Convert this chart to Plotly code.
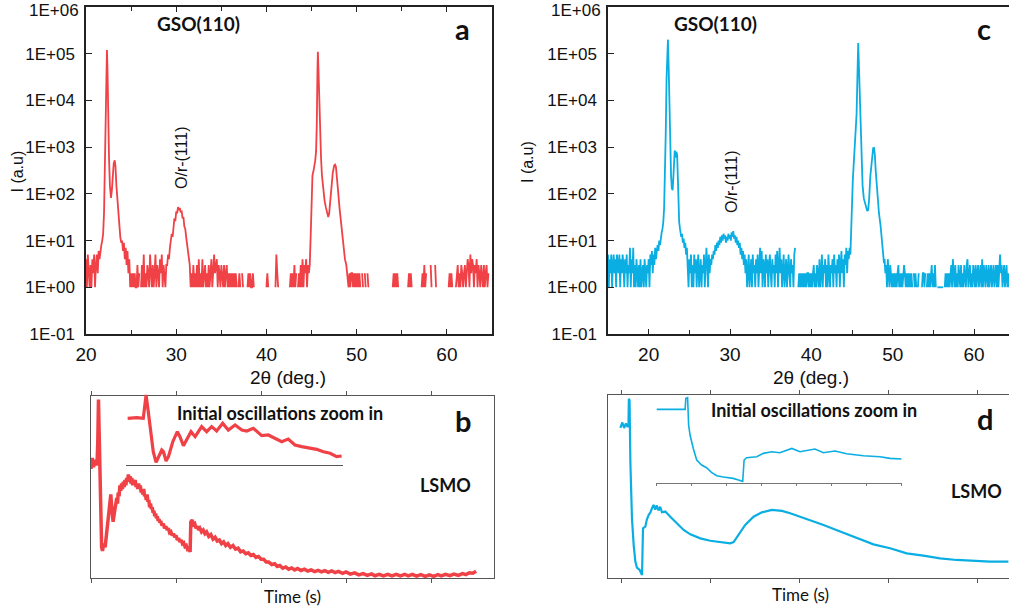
import plotly.graph_objects as go

W, H = 1009, 613
RED = "#EF4146"
BLUE = "#0BAEE2"
STEP = 0.1

# ---------------- Panel a (red XRD), counts on a 0.1 deg grid -----------------
a_n1_start = 20.0
a_n1 = [4, 1, 5, 2, 1, 3, 1, 4, 2, 5, 1, 3, 5, 2, 6, 4, 7, 8]
a_pk1_x = [21.8, 21.9, 22.0, 22.1, 22.2, 22.27, 22.32, 22.38, 22.45, 22.55, 22.65, 22.77,
           22.87, 22.97, 23.07, 23.18, 23.27, 23.37, 23.47, 23.57, 23.7]
a_pk1_y = [10, 14, 40, 400, 8000, 60000, 120000, 50000, 5000, 600, 150, 82,
           120, 260, 450, 520, 380, 150, 75, 40, 20]
a_n2_start = 23.8
a_n2 = [12, 9, 10, 6, 9, 4, 7, 3, 6, 2, 4, 1, 2, 1, 2, 1, 2, 1,
        1, 3, 1, 2, 0, 1, 3, 1, 5, 1, 2, 1, 3, 2, 1, 5, 2, 1, 3, 1, 2, 5, 1, 3, 2, 1, 4, 2, 5, 1, 3, 2, 1, 3,
        3, 5, 4, 7, 9, 14, 12, 22, 30, 26, 42, 38, 52, 45, 50, 40, 44, 30, 32, 20, 18, 12, 9, 6, 5, 3,
        1, 2, 1, 3, 1, 2, 1, 3, 1, 4, 1, 2, 1, 4, 1, 2, 3, 1, 2, 1,
        3, 1, 2, 4, 1, 3, 5, 2, 3, 4, 1, 3, 2, 1, 3, 2, 1, 3, 1, 2,
        3, 1, 2, 1, 2, 1, 2, 1, 2, 1, 2, 1, 0, 1,
        2, 1, 0, 2, 1, 0, 1, 0, 0, 1,
        2, 1, 2, 1, 1, 2, 1, 0, 0, 0,
        0, 0, 0, 0, 0, 0, 0, 0, 1, 0,
        1, 2, 1, 0, 2, 0, 0, 1, 0, 0,
        1, 5, 2, 1, 0, 2, 0, 1, 0, 0,
        0, 0, 0, 0, 0, 0, 1, 2, 1, 2,
        1, 3, 1, 2, 0, 1, 2, 1, 3, 1,
        4, 1, 3, 2, 4, 1, 3, 2]
a_pk2_x = [44.8, 44.9, 45.0, 45.1, 45.2, 45.3, 45.4, 45.5, 45.58, 45.65, 45.7, 45.76, 45.85,
           45.95, 46.05, 46.15, 46.3, 46.45, 46.6, 46.75, 46.85, 46.95, 47.05, 47.2, 47.35,
           47.5, 47.6, 47.7, 47.8, 47.95, 48.1, 48.25, 48.35, 48.5, 48.6, 48.7, 48.85, 48.95]
a_pk2_y = [3, 12, 150, 250, 300, 380, 500, 800, 3000, 40000, 110000, 50000, 10000,
           2500, 600, 250, 120, 70, 50, 38, 32, 38, 60, 150, 280,
           400, 420, 380, 250, 110, 50, 25, 14, 8, 5, 4, 3, 2]
a_n3_start = 49.0
a_n3 = [2, 1, 2, 1, 2, 2, 1, 2, 1, 2,
        1, 2, 1, 2, 1, 0, 2, 1, 0, 2,
        1, 0, 2, 1, 0, 0, 0, 0, 0, 0,
        0, 0, 0, 0, 0, 0, 0, 0, 0, 0,
        0, 0, 0, 0, 0, 0, 0, 0, 0, 0,
        1, 2, 1, 2, 1, 2, 1, 0, 0, 0,
        0, 0, 0, 0, 0, 0, 0, 1, 2, 1,
        2, 1, 0, 0, 0, 0, 0, 0, 0, 0,
        0, 0, 1, 2, 1, 3, 1, 2, 0, 0,
        0, 0, 3, 1, 0, 0, 0, 3, 1, 0,
        0, 0, 0, 0, 0, 0, 0, 0, 0, 0,
        0, 0, 1, 2, 1, 2, 1, 0, 0, 0,
        1, 2, 3, 1, 2, 1, 3, 2, 1, 2,
        3, 1, 2, 4, 3, 1, 5, 2, 4, 3,
        1, 3, 2, 4, 1, 3, 2, 1, 3, 2,
        1, 3, 1, 2, 3, 1, 2]

# ---------------- Panel c (blue XRD) -----------------
c_n1_start = 15.0
c_n1 = [5, 1, 4, 2, 5, 1, 3, 5, 2, 4,
        1, 5, 3, 2, 5, 1, 4, 2, 5, 3,
        1, 4, 2, 5, 1, 3, 2, 7, 1, 4,
        2, 7, 1, 3, 1, 4, 2, 1, 3, 1,
        4, 1, 2, 3, 1, 4, 2, 1, 3, 2,
        4, 1, 5, 3, 6, 2, 5, 3, 7, 4,
        6, 8, 6, 10, 8, 12, 15, 18, 25]
c_pk1_x = [21.9, 22.0, 22.1, 22.2, 22.3, 22.37, 22.45, 22.55, 22.65, 22.75, 22.85, 22.95,
           23.05, 23.12, 23.2, 23.3, 23.4, 23.5, 23.58, 23.65, 23.75, 23.85]
c_pk1_y = [50, 200, 2000, 30000, 150000, 200000, 60000, 8000, 1000, 250, 130, 120,
           250, 500, 850, 600, 800, 700, 200, 50, 25, 18]
c_n2_start = 23.9
c_n2 = [15, 12, 14, 9, 11, 7, 9, 5, 7, 3,
        1, 4, 2, 5, 1, 3, 1, 5, 2, 4, 1, 3, 5, 1, 2, 4, 1, 3, 2, 5, 1, 4, 7, 3, 1, 5, 2, 4,
        3, 5, 4, 6, 5, 8, 6, 9, 7, 10, 8, 12, 9, 13, 10, 14, 11, 13, 9, 12, 10, 14, 11, 13,
        10, 15, 12, 16, 11, 13, 9, 12, 8, 10, 7, 9, 5, 7, 4, 6, 3, 5, 2, 4, 1,
        2, 5, 1, 3, 4, 1, 5, 2, 3, 1, 4, 2, 5, 1, 3, 7, 2, 6, 1, 4,
        3, 1, 5, 2, 4, 1, 3, 5, 2, 1, 4, 2, 3, 1, 5, 2, 6, 1, 3, 7,
        2, 4, 1, 3, 5, 1, 2, 4, 1, 3, 5, 2, 1, 4, 2, 3, 1, 5, 7,
        0, 0, 0, 1, 2, 1, 2, 1, 2, 1,
        2, 1, 2, 1, 2, 2, 1, 2, 1, 2,
        1, 2, 3, 1, 2, 1, 3, 2, 1, 4,
        1, 2, 5, 1, 3,
        2, 4, 1, 3, 1, 5, 2, 1, 3, 2, 4, 1, 5, 2, 3, 1, 4, 2, 5, 1,
        3, 6, 2, 4, 1, 5, 3, 7, 2, 6, 4, 7, 5]
c_pk2_x = [44.85, 44.95, 45.02, 45.1, 45.2, 45.31, 45.45, 45.56, 45.65, 45.72, 45.76, 45.82,
           45.9, 45.97, 46.07, 46.15, 46.3, 46.45, 46.6, 46.75, 46.87, 46.98, 47.1, 47.25,
           47.45, 47.6, 47.7, 47.8, 47.92, 48.02, 48.15, 48.31, 48.52, 48.72, 48.93]
c_pk2_y = [8, 30, 75, 200, 450, 900, 2000, 5000, 25000, 120000, 170000, 80000,
           25000, 10000, 1500, 540, 150, 80, 62, 50, 43, 45, 75, 240,
           650, 950, 960, 700, 300, 170, 90, 39, 20, 7.5, 3.3]
c_n3_start = 49.0
c_n3 = [4, 2, 3, 1, 4, 2, 1, 3, 2, 1,
        2, 1, 2, 1, 2, 1, 2, 3, 1, 2,
        1, 2, 1, 2, 3, 2, 1, 2, 1, 2,
        1, 2, 1, 2, 1, 0, 2, 1, 2, 1,
        0, 1, 2, 0, 0, 0, 1, 2, 2, 1,
        2, 0, 1, 2, 1, 2, 1, 2, 3, 1,
        2, 1, 3, 1, 0, 1, 1, 1, 1, 1,
        1, 1, 1, 0, 1, 2, 1, 2, 1, 2,
        1, 2, 3, 1, 4, 2, 1, 3, 1, 2,
        1, 3, 2, 1, 3, 1, 2, 1, 3, 2,
        1, 3, 4, 1, 2, 3, 1, 2, 1, 3,
        2, 1, 3, 1, 2, 3, 1, 2, 3, 1,
        4, 1, 3, 2, 1, 3, 2, 1, 3, 1,
        2, 3, 1, 2, 3, 1, 2, 3, 1, 3,
        1, 4, 5, 2, 3, 1, 2, 3, 1, 2,
        3, 1, 2, 1]

# ---------------- Panel b (red RHEED) -----------------
b_main = [(-1, 60), (0.5, 66), (2, 61), (3.5, 65), (5, 62), (6.2, 64), (7, 75), (7.8, 98), (8.6, 80),
          (9.5, 50), (10.5, 30), (11.5, 17), (12.5, 15), (14, 19), (15.6, 17), (17, 24), (18.5, 30),
          (19.6, 35), (21, 42), (22.3, 46), (23.5, 38), (25, 31), (26.5, 36), (28, 42), (29.3, 44),
          (30.2, 41), (31, 47), (32, 45), (33, 51), (34, 48), (35, 52), (36, 49), (37, 53), (38, 50),
          (39, 54), (40, 51), (41, 55), (42, 53), (43, 57), (44, 53), (45, 56), (46, 52), (47, 55),
          (48, 51), (49, 54), (50, 51), (51, 54), (52, 50), (53, 52), (54, 49), (55, 52), (56, 49),
          (57, 51), (58, 47), (59, 49), (60, 46), (61, 49), (62, 45), (63, 46), (64, 43), (65, 46),
          (66, 42), (67, 43), (68, 39), (69, 41), (70, 38), (71, 39), (72, 36), (73, 37), (74, 34),
          (75, 35.5), (76, 33), (77, 34), (78, 31.5), (79, 32.5), (80, 30.5), (81, 31.5), (82.5, 29),
          (84, 30), (85.5, 27.5), (87, 28.5), (88.5, 26.5), (90, 27.5), (91.5, 25), (93, 25.5),
          (94.5, 23.5), (96, 24.5), (97.5, 22.5), (99, 23.5), (100.5, 21), (102, 22), (103.5, 20),
          (105, 21), (106.5, 19), (108, 19.5), (109.5, 17.5), (111, 18), (112.5, 16), (114, 16.5),
          (115.6, 14.5), (116.4, 31), (118, 32), (119.5, 29.5), (121, 30), (122.5, 27.5), (124, 28.5),
          (125.5, 26.5), (127, 27.5), (129, 25.5), (131, 26.5), (133, 24.5), (135, 25.5), (137.5, 23),
          (140, 24), (142.5, 21.5), (145, 22.5), (147.5, 20.5), (150, 21), (152.5, 19), (155, 20),
          (157.5, 18), (160, 19), (163, 17), (166, 18), (169, 16), (172, 16.5), (175, 14.5),
          (178, 15), (181, 13.5), (184, 14), (187, 12.5), (190, 13), (193, 11.5), (196, 12),
          (199, 10.5), (202, 10.5), (205, 9), (208, 9), (211.5, 7.5), (215, 8), (218, 6.5),
          (221, 7), (224.5, 5.5), (228, 6.2), (231.5, 5), (235, 5.7), (238.5, 4.6), (242, 5.4),
          (246, 4.3), (250, 5), (254, 4), (258, 4.6), (262, 3.7), (266, 4.4), (270, 3.5),
          (274, 4.2), (278, 3.3), (282, 4.1), (286, 3.1), (290, 3.8), (295, 2.7), (299, 3.5),
          (304, 2.3), (309, 3), (314, 1.9), (319, 2.6), (324, 1.6), (329, 2.4), (333, 1.4),
          (338, 2.2), (343, 1.3), (348, 2.2), (353, 1.3), (358, 2.2), (363, 1.3), (368, 2.2),
          (372, 1.3), (377, 2.2), (382, 1.2), (387, 2), (392, 1.1), (397, 1.9), (402, 1.1),
          (407, 2), (411, 1.3), (416, 2.2), (421, 1.4), (426, 2.3), (431, 1.6), (436, 2.6),
          (440, 2), (444, 3), (448, 2.8), (452, 3.9)]
b_inset = [(0.9, 66.7), (5.1, 67.6), (8.1, 66.7), (8.9, 85.7), (9.4, 100), (10.4, 76), (11.5, 47.6),
           (12.7, 19), (14, 3.8), (15.1, 11.9), (16.6, 21.4), (17.4, 19), (18.6, 5.7), (19.7, 11.9),
           (21.7, 33.3), (23.8, 47.6), (25, 40.5), (26.6, 27.6), (28.1, 35.7), (30.1, 47.6),
           (32, 40.5), (35, 54.8), (37.3, 47.6), (39.6, 54.8), (41.9, 48.6), (44.7, 59.5),
           (47.3, 50), (50.4, 57.1), (53.5, 50), (55.8, 48.6), (58.8, 52.4), (62.7, 41.9),
           (65.7, 42.9), (68.8, 38.1), (71.9, 33.3), (74.9, 37.1), (78, 28.6), (81.1, 26.2),
           (84.9, 23.8), (88, 22.4), (91.1, 19), (94.2, 16.7), (97.2, 11.9), (99.5, 12.9)]

# ---------------- Panel d (blue RHEED) -----------------
d_main = [(-0.7, 82), (1.5, 85), (3.5, 82), (5.5, 84.5), (7.5, 82.5), (8.4, 84), (8.8, 98),
          (9.6, 97), (10.5, 63.6), (12.3, 32.7), (14.2, 18.2), (16.1, 9.1), (17.9, 5.8),
          (20.9, 4.5), (23.6, 1.8), (24.7, 27.3), (27.3, 28.2), (29, 32), (31, 34.5), (33, 36),
          (34.8, 38.2), (36.5, 40), (38.5, 37.5), (40, 39.8), (42.2, 37), (44, 39), (46, 36),
          (49.7, 36.4), (55.3, 33.6), (62.8, 30), (70.3, 26.4), (77.8, 24), (89, 21.8),
          (100.2, 20.5), (115.1, 19.6), (122.6, 19.1), (126.4, 19.8), (132, 23.6), (139.4, 29.1),
          (148.8, 33.6), (158.1, 36), (169.3, 37.3), (180.6, 36.8), (189.9, 35.5), (201.1, 33.6),
          (212.3, 31.8), (227.3, 29.1), (246, 25.5), (264.7, 21.8), (283.4, 18.5), (302, 16.4),
          (320.7, 13.6), (339.4, 12.4), (358.1, 10.9), (376.8, 10), (395.5, 9.6), (414.2, 9.1),
          (434.8, 9.1)]
d_inset = [(0.02, 85.3), (0.49, 85.3), (0.83, 85.3), (0.85, 98), (0.9, 98.8), (0.93, 67),
           (0.97, 55.4), (1.06, 40), (1.16, 26.4), (1.3, 20.5), (1.44, 17.4), (1.58, 12),
           (1.73, 8.1), (1.92, 6.6), (2.2, 5), (2.35, 3.1), (2.47, 1.6), (2.51, 26.4), (2.58, 29),
           (2.87, 30.2), (3.06, 34.1), (3.3, 36), (3.53, 34.9), (3.87, 39.9), (4.1, 36),
           (4.53, 39.1), (4.77, 34.9), (5.1, 36.8), (5.43, 33.7), (5.91, 31.4), (6.38, 30.2),
           (6.67, 28.3), (7, 27.5)]

LOG_TICKS = [0.1, 1, 10, 100, 1000, 1e4, 1e5, 1e6]
LOG_TEXT = ["1E-01", "1E+00", "1E+01", "1E+02", "1E+03", "1E+04", "1E+05", ""]
TOP_LABEL = "1E+06"


def build(segments):
    xs, ys = [], []
    for kind, a, b in segments:
        if kind == "grid":
            for i, v in enumerate(b):
                xs.append(round(a + STEP * i, 3))
                ys.append(v if v > 0 else None)
        else:
            xs.extend(a)
            ys.extend(b)
    return xs, ys


ax_, ay_ = build([("grid", a_n1_start, a_n1), ("pk", a_pk1_x, a_pk1_y),
                  ("grid", a_n2_start, a_n2), ("pk", a_pk2_x, a_pk2_y),
                  ("grid", a_n3_start, a_n3)])
cx_, cy_ = build([("grid", c_n1_start, c_n1), ("pk", c_pk1_x, c_pk1_y),
                  ("grid", c_n2_start, c_n2), ("pk", c_pk2_x, c_pk2_y),
                  ("grid", c_n3_start, c_n3)])

fig = go.Figure()
fig.add_trace(go.Scatter(x=ax_, y=ay_, mode="lines", line=dict(color=RED, width=1.8),
                         xaxis="x", yaxis="y", connectgaps=False))
fig.add_trace(go.Scatter(x=cx_, y=cy_, mode="lines", line=dict(color=BLUE, width=1.8),
                         xaxis="x2", yaxis="y2", connectgaps=False))
fig.add_trace(go.Scatter(x=[p[0] for p in b_main], y=[p[1] for p in b_main], mode="lines",
                         line=dict(color=RED, width=3.5), xaxis="x3", yaxis="y3"))
fig.add_trace(go.Scatter(x=[p[0] for p in d_main], y=[p[1] for p in d_main], mode="lines",
                         line=dict(color=BLUE, width=2.2), xaxis="x4", yaxis="y4"))
fig.add_trace(go.Scatter(x=[p[0] for p in b_inset], y=[p[1] for p in b_inset], mode="lines",
                         line=dict(color=RED, width=3.2), xaxis="x5", yaxis="y5"))
fig.add_trace(go.Scatter(x=[p[0] for p in d_inset], y=[p[1] for p in d_inset], mode="lines",
                         line=dict(color=BLUE, width=1.6), xaxis="x6", yaxis="y6"))


def xd(a, b):
    return [a / W, b / W]


def yd(top, bottom):
    return [1 - bottom / H, 1 - top / H]


TICKF_Y = dict(family="Liberation Sans, Arial", size=17, color="#111")
TICKF_X = dict(family="Liberation Sans, Arial", size=19, color="#111")
LINE = dict(showline=True, linecolor="#222", linewidth=1.5, showgrid=False, zeroline=False,
            automargin=False)
LINE2 = dict(showline=True, linecolor="#555", linewidth=1.3, showgrid=False, zeroline=False,
             automargin=False)

fig.update_layout(
    template="none",
    width=W, height=H, margin=dict(l=0, r=0, t=0, b=0, pad=0, autoexpand=False),
    paper_bgcolor="white", plot_bgcolor="rgba(0,0,0,0)", showlegend=False,
    xaxis=dict(domain=xd(86, 492), range=[20, 65], anchor="y", tickvals=[20, 30, 40, 50, 60],
               ticks="inside", ticklen=5, tickcolor="#222", mirror="ticks", tickfont=TICKF_X,
               ticklabelstandoff=2,
               minor=dict(tickvals=[25, 35, 45, 55], ticks="inside", ticklen=4, tickcolor="#222"), **LINE),
    yaxis=dict(domain=yd(7, 334), type="log", range=[-1, 6], anchor="x", tickvals=LOG_TICKS,
               ticktext=LOG_TEXT, ticks="inside", ticklen=6, tickcolor="#222", mirror=True,
               tickfont=TICKF_Y, ticklabelstandoff=6, **LINE),
    xaxis2=dict(domain=xd(608, 1009), range=[15, 64.3], anchor="y2", tickvals=[20, 30, 40, 50, 60],
                ticks="inside", ticklen=5, tickcolor="#222", mirror=True, tickfont=TICKF_X,
                ticklabelstandoff=2,
                minor=dict(tickvals=[25, 35, 45, 55], ticks="inside", ticklen=4, tickcolor="#222"), **LINE),
    yaxis2=dict(domain=yd(7, 334), type="log", range=[-1, 6], anchor="x2", tickvals=LOG_TICKS,
                ticktext=LOG_TEXT, ticks="inside", ticklen=6, tickcolor="#222", mirror=False,
                tickfont=TICKF_Y, ticklabelstandoff=6, **LINE),
    xaxis3=dict(domain=xd(91, 494), range=[-1, 473], anchor="y3", tickvals=[0, 100, 200, 300, 400],
                ticks="outside", ticklen=4, tickcolor="#555", showticklabels=False, mirror="ticks",
                **LINE2),
    yaxis3=dict(domain=yd(396, 578.3), range=[0, 100], anchor="x3", ticks="", showticklabels=False,
                mirror=True, **LINE2),
    xaxis4=dict(domain=xd(608, 1009), range=[-14.6, 435.5], anchor="y4",
                tickvals=[0, 100, 200, 300, 400], ticks="outside", ticklen=4, tickcolor="#555",
                showticklabels=False, mirror="ticks", **LINE2),
    yaxis4=dict(domain=yd(395, 578.3), range=[0, 100], anchor="x4", ticks="", showticklabels=False,
                mirror=False, **LINE2),
    xaxis5=dict(domain=xd(125.7, 342.7), range=[0, 100], anchor="y5", ticks="", showticklabels=False,
                showline=True, linecolor="#555", linewidth=1.2, showgrid=False, zeroline=False,
                automargin=False),
    yaxis5=dict(domain=yd(465 - 0.7 * 102, 465), range=[0, 102], anchor="x5", visible=False,
                automargin=False),
    xaxis6=dict(domain=xd(656, 901.7), range=[0, 7], anchor="y6", tickvals=[0, 1, 2, 3, 4, 5, 6, 7],
                ticks="outside", ticklen=2, tickcolor="#777", showticklabels=False,
                showline=True, linecolor="#777", linewidth=1.2, showgrid=False, zeroline=False,
                automargin=False),
    yaxis6=dict(domain=yd(482.7 - 0.86 * 102, 482.7), range=[0, 102], anchor="x6", visible=False,
                automargin=False),
)

ARIAL = "Liberation Sans, Arial"
CAL = "Lato, Carlito, Calibri"


def ann(xp, yp, text, size, family=ARIAL, bold=False, angle=0, xanchor="center", yanchor="middle"):
    if bold:
        text = "<b>" + text + "</b>"
    fig.add_annotation(x=xp / W, y=1 - yp / H, xref="paper", yref="paper", text=text,
                       showarrow=False, xanchor=xanchor, yanchor=yanchor, textangle=angle,
                       borderpad=0, font=dict(family=family, size=size, color="#111"))


# top decade labels, kept just inside the page edge
ann(80, 0, TOP_LABEL, 17, ARIAL, False, 0, "right", "top")
ann(602, 0, TOP_LABEL, 17, ARIAL, False, 0, "right", "top")

ann(198, 24, "GSO(110)", 19, CAL, True)
ann(715, 24, "GSO(110)", 19, CAL, True)
ann(462, 29, "a", 29, CAL, True)
ann(984, 29, "c", 29, CAL, True)
ann(181, 158, "O/r-(111)", 16, ARIAL, False, -90)
ann(731, 182, "O/r-(111)", 16, ARIAL, False, -90)
ann(16.5, 172, "I (a.u)", 16, ARIAL, False, -90)
ann(527, 162, "I (a.u)", 16, ARIAL, False, -90)
ann(288, 377, "2θ (deg.)", 19)
ann(811, 377, "2θ (deg.)", 19)
ann(280, 413, "Initial oscillations zoom in", 18, CAL, True)
ann(814, 410, "Initial oscillations zoom in", 18, CAL, True)
ann(462.5, 420, "b", 29, CAL, True)
ann(985, 418, "d", 29, CAL, True)
ann(445, 485, "LSMO", 18, CAL, True)
ann(976, 491, "LSMO", 18, CAL, True)
ann(292.5, 596, "Time (s)", 17, CAL)
ann(800, 594, "Time (s)", 17, CAL)

fig.write_html("out.html", config={"displayModeBar": False},
               post_script="document.body.style.margin='0';document.body.style.overflow='hidden';")
